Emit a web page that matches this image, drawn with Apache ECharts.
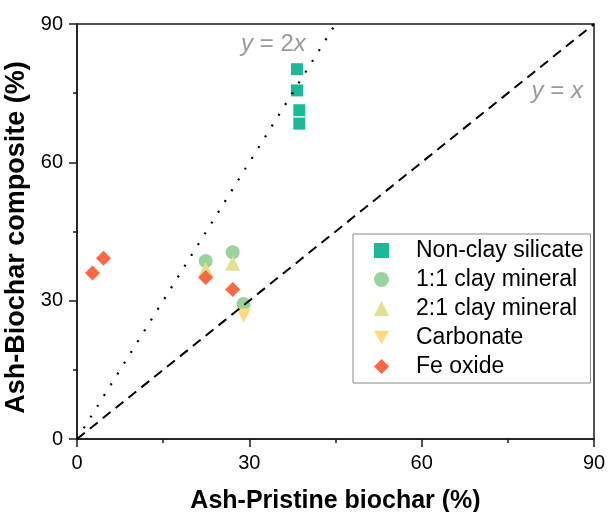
<!DOCTYPE html>
<html>
<head>
<meta charset="utf-8">
<script src="https://cdn.jsdelivr.net/npm/echarts@6/dist/echarts.min.js"></script>
<style>html,body{margin:0;padding:0;background:#fff;}#c{width:608px;height:512px;}</style>
</head>
<body>
<div id="c"></div>
<script>
const axisTicks = [0, 30, 60, 90];
const seriesNames = ['Non-clay silicate', '1:1 clay mineral', '2:1 clay mineral', 'Carbonate', 'Fe oxide'];
const nonClayX = [38.3, 38.3, 38.7, 38.7];
const nonClayY = [80.2, 75.6, 71.3, 68.4];
const clay11X = [22.4, 27.1, 29.0];
const clay11Y = [38.6, 40.5, 29.3];
const clay21X = [22.4, 27.1];
const clay21Y = [36.8, 38.1];
const carbonateX = [29.0];
const carbonateY = [26.8];
const feOxideX = [2.7, 4.6, 22.4, 27.1];
const feOxideY = [36.0, 39.2, 35.0, 32.4];
const lineYeqX = [[0, 0], [90, 90]];
const lineYeq2X = [[0, 0], [45, 90]];
const refLabelX = [34.2, 83.6];
const refLabelY = [85.5, 75.4];
const refLabelText = ['{i|y} = 2{i|x}', '{i|y} = {i|x}'];

const FONT = '"Liberation Sans", Arial, Helvetica, sans-serif';
const zip = (xs, ys) => xs.map((x, i) => [x, ys[i]]);

const chart = echarts.init(document.getElementById('c'), null, {renderer: 'canvas'});

const axisCommon = {
  min: axisTicks[0], max: axisTicks[axisTicks.length - 1], interval: axisTicks[1] - axisTicks[0],
  axisLine: {show: true, onZero: false, lineStyle: {color: '#1a1a1a', width: 1.5}},
  axisTick: {show: true, inside: false, length: 8, lineStyle: {color: '#1a1a1a', width: 1.5}},
  minorTick: {show: true, splitNumber: 2, length: 4, lineStyle: {color: '#1a1a1a', width: 1.5}},
  splitLine: {show: false},
  minorSplitLine: {show: false},
  axisLabel: {color: '#000', fontSize: 20, fontFamily: FONT, margin: 14},
  nameLocation: 'middle',
};

chart.setOption({
  animation: false,
  backgroundColor: '#fff',
  grid: {left: 77, top: 24, width: 517, height: 415, containLabel: false, outerBoundsMode: 'none',
    show: true, borderColor: '#1a1a1a', borderWidth: 1.5, backgroundColor: 'transparent'},
  xAxis: Object.assign({}, axisCommon, {
    type: 'value',
    name: 'Ash-Pristine biochar (%)',
    nameGap: 50,
    nameTextStyle: {color: '#000', fontSize: 25, fontWeight: 'bold', fontFamily: FONT},
  }),
  yAxis: Object.assign({}, axisCommon, {
    type: 'value',
    name: 'Ash-Biochar composite (%)',
    nameGap: 38,
    nameTextStyle: {color: '#000', fontSize: 27, fontWeight: 'bold', fontFamily: FONT, padding: [0, 12, 0, 0]},
  }),
  legend: {
    data: seriesNames,
    orient: 'vertical',
    left: 353, top: 234,
    padding: [5, 7, 5, 21],
    itemWidth: 15, itemHeight: 15, itemGap: 6,
    borderColor: '#888', borderWidth: 1, backgroundColor: '#fff',
    textStyle: {color: '#000', fontSize: 23, lineHeight: 23, fontFamily: FONT, padding: [0, 0, 0, 22]},
  },
  series: [
    {name: seriesNames[0], type: 'scatter', data: zip(nonClayX, nonClayY), symbol: 'rect', symbolSize: 12, itemStyle: {color: '#1cb996', opacity: 1}, z: 2},
    {name: seriesNames[1], type: 'scatter', data: zip(clay11X, clay11Y), symbol: 'circle', symbolSize: 14, itemStyle: {color: '#99d39b', opacity: 1}, z: 2},
    {name: seriesNames[2], type: 'scatter', data: zip(clay21X, clay21Y), symbol: 'triangle', symbolSize: 15, itemStyle: {color: '#e0e08e', opacity: 1}, z: 2},
    {name: seriesNames[3], type: 'scatter', data: zip(carbonateX, carbonateY), symbol: 'path://M0,0 L10,0 L5,9 Z', symbolSize: [15, 14], itemStyle: {color: '#fed97d', opacity: 1}, z: 2},
    {name: seriesNames[4], type: 'scatter', data: zip(feOxideX, feOxideY), symbol: 'diamond', symbolSize: 15, itemStyle: {color: '#fd6842', opacity: 1}, z: 2},
    {name: 'y=x', type: 'line', data: lineYeqX, symbol: 'none', silent: true, z: 5,
      lineStyle: {color: '#000', width: 2, type: [10, 6.5]}},
    {name: 'y=2x', type: 'line', data: lineYeq2X, symbol: 'none', silent: true, z: 5,
      lineStyle: {color: '#000', width: 2.2, type: [2, 10.7]}},
    {name: 'refLabels', type: 'scatter', symbolSize: 0, silent: true, z: 6,
      data: refLabelX.map((x, i) => ({value: [x, refLabelY[i]], label: {formatter: refLabelText[i]}})),
      label: {show: true, position: 'inside', align: 'center', verticalAlign: 'middle',
        color: '#808080', fontSize: 24, fontFamily: FONT,
        rich: {i: {fontStyle: 'italic', color: '#808080', fontSize: 24, fontFamily: FONT}}}},
  ],
});
</script>
</body>
</html>
